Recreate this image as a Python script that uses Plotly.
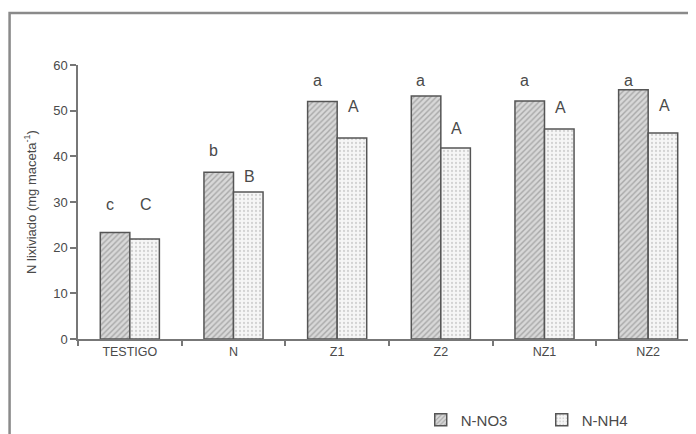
import plotly.graph_objects as go

categories = ["TESTIGO", "N", "Z1", "Z2", "NZ1", "NZ2"]
no3_values = [23.3, 36.5, 52.0, 53.2, 52.1, 54.6]
nh4_values = [21.9, 32.2, 44.0, 41.8, 46.0, 45.1]
no3_letters = ["c", "b", "a", "a", "a", "a"]
nh4_letters = ["C", "B", "A", "A", "A", "A"]
no3_letter_y = [29.5, 41.3, 56.6, 56.6, 56.6, 56.6]
nh4_letter_y = [29.5, 35.6, 51.0, 46.2, 50.8, 51.2]
y_ticks = [0, 10, 20, 30, 40, 50, 60]

FONT = "Liberation Sans, Arial, sans-serif"
TXT = "#4a4a4a"

fig = go.Figure()
fig.add_trace(go.Bar(
    x=categories, y=no3_values, name="N-NO3",
    marker=dict(color="#d4d4d4",
                line=dict(color="#555555", width=1.5),
                pattern=dict(shape="/", fgcolor="#777777", bgcolor="#d8d8d8",
                             size=4, solidity=0.35)),
))
fig.add_trace(go.Bar(
    x=categories, y=nh4_values, name="N-NH4",
    marker=dict(color="#f4f4f4",
                line=dict(color="#555555", width=1.5),
                pattern=dict(shape=".", fgcolor="#b0b0b0", bgcolor="#f6f6f6",
                             size=4, solidity=0.25)),
))

for cat, lt, ly in zip(categories, no3_letters, no3_letter_y):
    fig.add_annotation(x=cat, y=ly, text=lt, showarrow=False, xshift=-20,
                       font=dict(family=FONT, size=16, color=TXT), yanchor="middle")
for cat, lt, ly in zip(categories, nh4_letters, nh4_letter_y):
    fig.add_annotation(x=cat, y=ly, text=lt, showarrow=False, xshift=16,
                       font=dict(family=FONT, size=16, color=TXT), yanchor="middle")

# outer frame
fig.add_shape(type="rect", xref="paper", yref="paper",
              x0=-0.110, x1=1.05, y0=-0.6, y1=1.19,
              line=dict(color="#8a8a8a", width=2.5), layer="below")

fig.update_layout(
    width=696, height=434,
    margin=dict(l=70, r=4, t=57, b=103, autoexpand=False),
    paper_bgcolor="white", plot_bgcolor="white",
    barmode="group", bargap=0.43, bargroupgap=0,
    font=dict(family=FONT, color=TXT, size=12),
    showlegend=True,
    legend=dict(orientation="h", x=0.551, y=-0.296, xanchor="left", yanchor="middle",
                font=dict(family=FONT, size=15, color=TXT),
                entrywidth=76, entrywidthmode="pixels",
                bgcolor="rgba(0,0,0,0)"),
    xaxis=dict(showline=True, linecolor="#777777", linewidth=1.5,
               ticks="outside", ticklen=5, tickcolor="#777777", tickwidth=1.5,
               tickson="boundaries", showgrid=False, zeroline=False,
               tickfont=dict(family=FONT, size=12.5, color=TXT), fixedrange=True),
    yaxis=dict(range=[0, 60], tickvals=y_ticks, showline=True, linecolor="#777777",
               linewidth=1.5, ticks="outside", ticklen=6, tickcolor="#777777",
               tickwidth=1.5, showgrid=False, zeroline=False,
               tickfont=dict(family=FONT, size=13, color=TXT),
               title=dict(text="N lixiviado (mg maceta<sup>-1</sup>)",
                          font=dict(family=FONT, size=13, color=TXT), standoff=14)),
)

fig.write_html("out.html")
